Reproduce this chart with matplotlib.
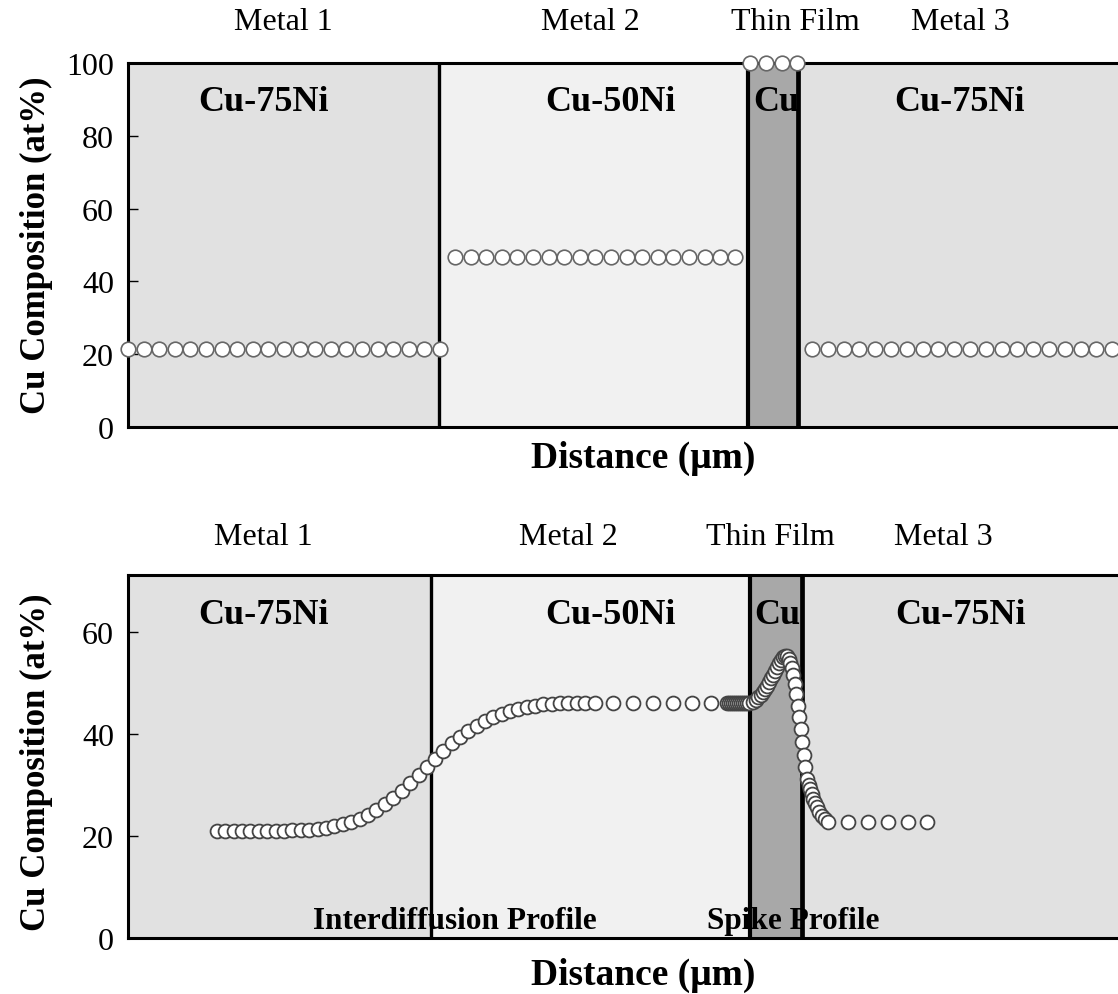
import matplotlib
matplotlib.use('Agg')
import matplotlib.pyplot as plt

plt.rcParams['font.family'] = ['Liberation Serif', 'DejaVu Serif']

# ---- top panel: initial composition ----
top_m1_x = [0.0, 1.56, 3.12, 4.68, 6.24, 7.8, 9.36, 10.92, 12.48, 14.04, 15.6,
            17.16, 18.72, 20.28, 21.84, 23.4, 24.96, 26.52, 28.08, 29.64, 31.2]
top_m1_y = [21.5] * 21
top_m2_x = [32.7, 34.26, 35.82, 37.38, 38.94, 40.5, 42.06, 43.62, 45.18, 46.74,
            48.3, 49.86, 51.42, 52.98, 54.54, 56.1, 57.66, 59.22, 60.7]
top_m2_y = [46.8] * 19
top_film_x = [62.2, 63.8, 65.4, 66.9]
top_film_y = [100, 100, 100, 100]
top_m3_x = [68.4, 69.98, 71.56, 73.14, 74.72, 76.3, 77.88, 79.46, 81.04, 82.62,
            84.2, 85.78, 87.36, 88.94, 90.52, 92.1, 93.68, 95.26, 96.84, 98.42, 100.0]
top_m3_y = [21.5] * 21

top_bounds = [31.1, 61.95, 66.95]

# ---- bottom panel: after annealing ----
inter_x = [8.9, 9.7, 10.6, 11.4, 12.2, 13.1, 13.9, 14.8, 15.6, 16.4, 17.3, 18.1,
           19.0, 19.8, 20.6, 21.5, 22.3, 23.2, 24.0, 24.8, 25.7, 26.5, 27.4, 28.2,
           29.1, 29.9, 30.7, 31.5, 32.4, 33.2, 34.0, 34.9, 35.7, 36.5, 37.4, 38.2,
           39.0, 39.9, 40.7, 41.5, 42.4, 43.2, 44.0, 44.9, 45.7, 46.7,
           48.5, 50.5, 52.5, 54.5, 56.4, 58.3]
inter_y = [21.0, 21.0, 21.0, 21.0, 21.0, 21.0, 21.0, 21.05, 21.05, 21.1, 21.15, 21.25,
           21.4, 21.6, 21.9, 22.3, 22.8, 23.4, 24.2, 25.1, 26.2, 27.4, 28.8, 30.4,
           32.0, 33.6, 35.1, 36.7, 38.2, 39.5, 40.6, 41.6, 42.5, 43.3, 44.0, 44.6,
           45.0, 45.3, 45.6, 45.8, 45.9, 46.0, 46.0, 46.0, 46.0, 46.0,
           46.0, 46.0, 46.0, 46.0, 46.0, 46.0]

spike_x = [59.9, 60.1, 60.3, 60.5, 60.7, 60.9, 61.1, 61.3, 61.5, 61.7, 61.9, 62.1,
           62.5, 62.75, 63.0, 63.25, 63.5, 63.7, 63.9, 64.1, 64.3, 64.5, 64.7, 64.9,
           65.1, 65.3, 65.5, 65.7, 65.9, 66.05, 66.2, 66.35, 66.5, 66.65, 66.8, 66.95,
           67.1, 67.25, 67.4, 67.55, 67.7, 67.87, 68.05, 68.2, 68.37, 68.53, 68.7,
           68.87, 69.1, 69.37, 69.7, 70.03,
           72.0, 74.0, 76.0, 78.0, 79.9]
spike_y = [46.0, 46.0, 46.0, 46.0, 46.0, 46.0, 46.0, 46.0, 46.0, 46.0, 46.0, 46.0,
           46.3, 46.7, 47.2, 47.7, 48.3, 48.9, 49.5, 50.2, 50.9, 51.6, 52.4, 53.2,
           54.0, 54.6, 55.1, 55.4, 55.3, 54.8, 54.0, 53.0, 51.5, 49.8, 47.8, 45.6,
           43.3, 41.0, 38.5, 35.9, 33.5, 31.2, 30.1, 29.2, 28.2, 27.3, 26.4,
           25.6, 24.8, 24.0, 23.3, 22.8,
           22.7, 22.7, 22.7, 22.7, 22.7]

bot_bounds = [30.3, 62.2, 67.4]

region_names = ['Metal 1', 'Metal 2', 'Thin Film', 'Metal 3']
alloy_names = ['Cu-75Ni', 'Cu-50Ni', 'Cu', 'Cu-75Ni']

c_75 = '#e1e1e1'
c_50 = '#f1f1f1'
c_cu = '#a8a8a8'

fig = plt.figure(figsize=(11.18, 9.95), dpi=100)
ax1 = fig.add_axes([0.1145, 0.5698, 0.8891, 0.3658])
ax2 = fig.add_axes([0.1145, 0.0563, 0.8891, 0.3648])


def setup(ax, bounds, ymax, yticks):
    xmax = 99.4
    ax.set_xlim(0, xmax)
    ax.set_ylim(0, ymax)
    ax.axvspan(0, bounds[0], color=c_75, zorder=0, lw=0)
    ax.axvspan(bounds[0], bounds[1], color=c_50, zorder=0, lw=0)
    ax.axvspan(bounds[1], bounds[2], color=c_cu, zorder=0, lw=0)
    ax.axvspan(bounds[2], xmax, color=c_75, zorder=0, lw=0)
    ax.axvline(bounds[0], color='black', lw=2.4, zorder=3)
    ax.axvline(bounds[1], color='black', lw=3.0, zorder=3)
    ax.axvline(bounds[2], color='black', lw=3.4, zorder=3)
    for s in ax.spines.values():
        s.set_linewidth(2.2)
        s.set_zorder(4)
    ax.set_xticks([])
    ax.set_yticks(yticks)
    ax.tick_params(axis='y', direction='in', length=7, width=1.0,
                   labelsize=23, pad=10)


# top panel
setup(ax1, top_bounds, 100, [0, 20, 40, 60, 80, 100])
mk = dict(marker='o', ls='none', mfc='white', mec='#666666', ms=10.5, mew=1.2,
          clip_on=False, zorder=6)
ax1.plot(top_m1_x, top_m1_y, **mk)
ax1.plot(top_m2_x, top_m2_y, **mk)
ax1.plot(top_film_x, top_film_y, **mk)
ax1.plot(top_m3_x, top_m3_y, **mk)

top_name_x = [15.5, 46.2, 66.7, 83.2]
for x, t in zip(top_name_x, region_names):
    ax1.text(x, 111.5, t, ha='center', va='center', fontsize=23)
top_alloy_x = [13.5, 48.2, 62.5, 83.1]
for x, t in zip(top_alloy_x, alloy_names):
    ax1.text(x, 89.5, t, ha='left' if t == 'Cu' else 'center', va='center',
             fontsize=26, fontweight='bold', zorder=2)

# bottom panel
setup(ax2, bot_bounds, 71.2, [0, 20, 40, 60])
mk2 = dict(mk, mec='#444444', ms=10, mew=1.3)
ax2.plot(inter_x, inter_y, **mk2)
ax2.plot(spike_x, spike_y, **mk2)

bot_name_x = [13.5, 44.0, 64.2, 81.5]
for x, t in zip(bot_name_x, region_names):
    ax2.text(x, 78.8, t, ha='center', va='center', fontsize=23)
bot_alloy_x = [13.5, 48.2, 62.6, 83.2]
for x, t in zip(bot_alloy_x, alloy_names):
    ax2.text(x, 63.5, t, ha='left' if t == 'Cu' else 'center', va='center',
             fontsize=26, fontweight='bold', zorder=2)

ax2.text(32.7, 2.0, 'Interdiffusion Profile', ha='center', va='baseline',
         fontsize=22.5, fontweight='bold', zorder=2)
ax2.text(57.9, 2.0, 'Spike Profile', ha='left', va='baseline',
         fontsize=22.5, fontweight='bold', zorder=2)

# axis titles
for yl, yc in [(0.5397, 0.754), (0.0201, 0.234)]:
    fig.text(0.575, yl, 'Distance (\u03bcm)', ha='center', va='center',
             fontsize=27, fontweight='bold')
    fig.text(0.033, yc, 'Cu Composition (at%)', ha='center', va='center',
             rotation=90, fontsize=25, fontweight='bold')

fig.savefig('out.png', dpi=100)
